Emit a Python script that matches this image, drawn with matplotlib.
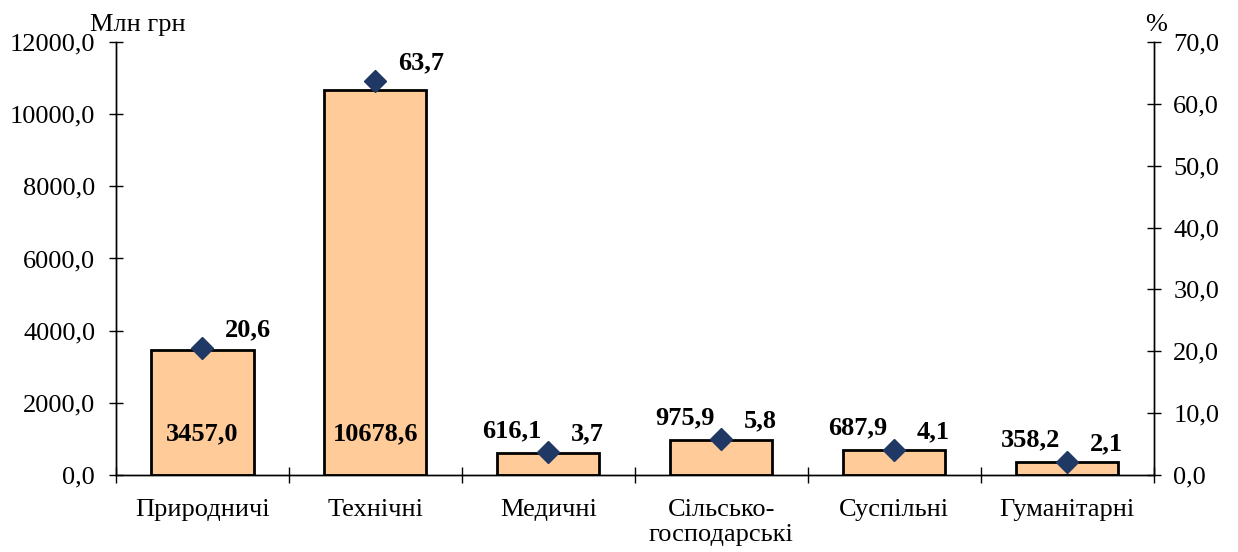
import matplotlib.pyplot as plt
import numpy as np

categories = ["Природничі", "Технічні", "Медичні", "Сільсько-\nгосподарські", "Суспільні", "Гуманітарні"]
amounts = [3457.0, 10678.6, 616.1, 975.9, 687.9, 358.2]
shares = [20.6, 63.7, 3.7, 5.8, 4.1, 2.1]
amount_labels = ["3457,0", "10678,6", "616,1", "975,9", "687,9", "358,2"]
share_labels = ["20,6", "63,7", "3,7", "5,8", "4,1", "2,1"]
left_ticks = np.arange(0, 12001, 2000)
right_ticks = np.arange(0, 71, 10)

plt.rcParams["font.family"] = ["Liberation Serif", "DejaVu Serif"]

fig = plt.figure(figsize=(12.38, 5.52), dpi=100)
ax = fig.add_axes([0.0937, 0.1395, 0.8383, 0.7845])
ax2 = ax.twinx()

x = np.arange(len(categories))
ax.bar(x, amounts, width=0.59, color="#FFCC99", edgecolor="black", linewidth=2, zorder=2)

ax.set_xlim(-0.5, len(categories) - 0.5)
ax.set_ylim(0, 12000)
ax.set_yticks(left_ticks)
ax.set_yticklabels([f"{v:.1f}".replace(".", ",") for v in left_ticks])
ax.set_xticks(x)
ax.set_xticklabels(categories)
ax.set_xticks(np.arange(-0.5, len(categories)), minor=True)
ax.tick_params(axis="x", which="major", length=0, pad=17, labelsize=19)
ax.tick_params(axis="x", which="minor", direction="inout", length=11, width=1)
ax.tick_params(axis="y", direction="inout", length=10, width=1, pad=10, labelsize=19)

ax2.set_ylim(0, 70)
ax2.set_yticks(right_ticks)
ax2.set_yticklabels([f"{v:.1f}".replace(".", ",") for v in right_ticks])
ax2.tick_params(axis="y", direction="inout", length=10, width=1, pad=9, labelsize=19)

for a in (ax, ax2):
    a.spines["top"].set_visible(False)
    for s in ("left", "right", "bottom"):
        a.spines[s].set_linewidth(1)

ax2.plot(x, shares, linestyle="none", marker="D", markersize=11,
         color="#1F3864", zorder=5)

for i in range(len(categories)):
    if amounts[i] > 3000:
        ax.text(x[i], 1150, amount_labels[i], ha="center", va="center",
                fontsize=19, fontweight="bold", zorder=6)
    else:
        ax.annotate(amount_labels[i], (x[i], amounts[i]), xytext=(-5, 16),
                    textcoords="offset points", ha="right", va="center",
                    fontsize=19, fontweight="bold")
    ax2.annotate(share_labels[i], (x[i], shares[i]), xytext=(16, 13),
                 textcoords="offset points", ha="left", va="center",
                 fontsize=19, fontweight="bold")

fig.text(0.073, 0.955, "Млн грн", fontsize=19, ha="left", va="center")
fig.text(0.934, 0.955, "%", fontsize=19, ha="center", va="center")

plt.savefig("out.png", dpi=100)
